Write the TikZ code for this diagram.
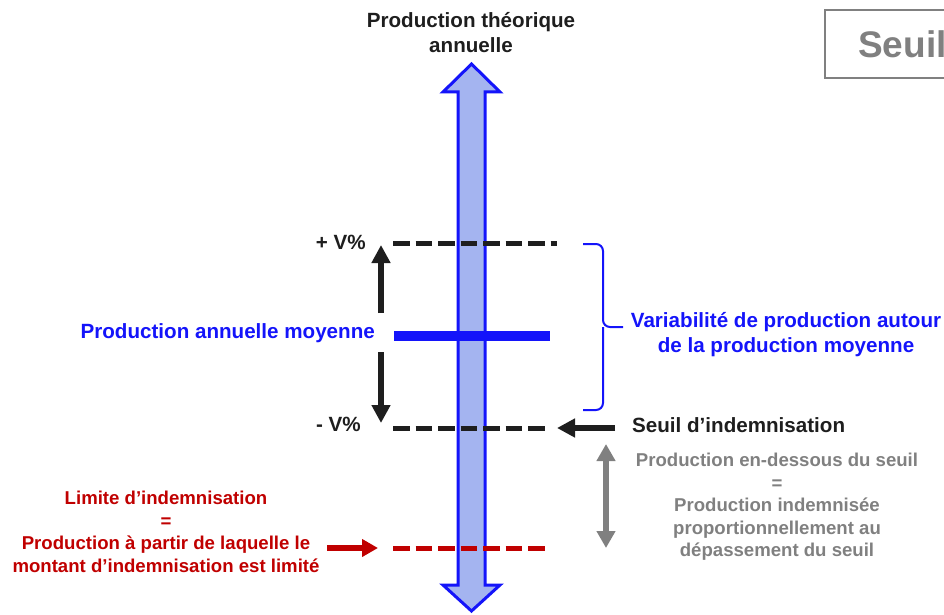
\documentclass[tikz,border=0pt]{standalone}
\usepackage{fontspec}
\setmainfont{Liberation Sans}
\usetikzlibrary{arrows.meta}
\definecolor{vblue}{RGB}{20,20,250}
\definecolor{vfill}{RGB}{164,180,240}
\definecolor{vred}{RGB}{192,0,0}
\definecolor{vgray}{RGB}{128,128,128}
\definecolor{vdark}{RGB}{30,30,30}
\newcommand{\lb}{\fontsize{20.6}{25}\selectfont\bfseries}
\newcommand{\gb}{\fontsize{18.6}{22.5}\selectfont\bfseries}

\begin{document}
\begin{tikzpicture}[x=1pt,y=-1pt,inner sep=0pt,
    dashline/.style={line width=5pt,dash pattern=on 16.5pt off 6pt},
    fat/.style={line width=5.5pt,-{Triangle[width=18pt,length=18pt]}}]
      \useasboundingbox (0,0) rectangle (944,615);
      \draw[vgray,line width=2pt] (825,10) rectangle (990,78);
      \node[anchor=west,text=vgray,font=\fontsize{37}{40}\selectfont\bfseries] (titre) at (858,44) {Seuil};
      \node[align=center,text=vdark,font=\lb] (theo) at (471,33) {Production théorique\\annuelle};
      \filldraw[fill=vfill,draw=vblue,line width=3pt]
        (471.5,64) -- (500,92) -- (485,92) -- (485,585) -- (500,585) -- (471.5,611)
        -- (443,585) -- (458,585) -- (458,92) -- (443,92) -- cycle;
      \coordinate (hautG) at (393,243);  \coordinate (hautD) at (557,243);
      \coordinate (moyG)  at (394,336);  \coordinate (moyD)  at (550,336);
      \coordinate (basG)  at (393,428);  \coordinate (basD)  at (548,428);
      \coordinate (limG)  at (393,548);  \coordinate (limD)  at (546,548);
      \draw[dashline,vdark] (hautG) -- (hautD);
      \draw[dashline,vdark] (basG) -- (basD);
      \draw[dashline,vred] (limG) -- (limD);
      \draw[vblue,line width=10pt] (moyG) -- (moyD);
      \node[anchor=east,text=vdark,font=\lb] (plus) at (366,242) {+ V\%};
      \node[anchor=east,text=vdark,font=\lb] (moins) at (361,424) {- V\%};
      \node[anchor=east,text=vblue,font=\lb] (moy) at (375,333) {Production annuelle moyenne};
      \coordinate (up0) at (381,313);  \coordinate (up1) at (381,245);
      \coordinate (dn0) at (381,352);  \coordinate (dn1) at (381,423);
      \draw[fat,vdark] (up0) -- (up1);
      \draw[fat,vdark] (dn0) -- (dn1);
      \draw[vblue,line width=2pt,rounded corners=7pt]
        (583,244) -- (603,244) -- (603,327) -- (623,327) (603,327) -- (603,410) -- (583,410);
      \node[align=center,text=vblue,font=\lb] (varia) at (786,335) {Variabilité de production autour\\de la production moyenne};
      \coordinate (seuilA) at (615,428);  \coordinate (seuilB) at (557,428);
      \draw[fat,vdark] (seuilA) -- (seuilB);
      \node[anchor=west,text=vdark,font=\lb] (seuil) at (632,425) {Seuil d’indemnisation};
      \coordinate (gr0) at (606,444);  \coordinate (gr1) at (606,548);
      \draw[vgray,line width=5.5pt,{Triangle[width=18pt,length=17pt]}-{Triangle[width=18pt,length=17pt]}] (gr0) -- (gr1);
      \node[align=center,text=vgray,font=\gb] (dessous) at (777,507)
        {Production en-dessous du seuil\\=\\Production indemnisée\\proportionnellement au\\dépassement du seuil};
      \node[align=center,text=vred,font=\gb] (limite) at (166,532)
        {Limite d’indemnisation\\=\\Production à partir de laquelle le\\montant d’indemnisation est limité};
      \coordinate (rouge0) at (327,548);  \coordinate (rouge1) at (378,548);
      \draw[vred,line width=5.5pt,-{Triangle[width=17pt,length=16pt]}] (rouge0) -- (rouge1);
\end{tikzpicture}
\end{document}
